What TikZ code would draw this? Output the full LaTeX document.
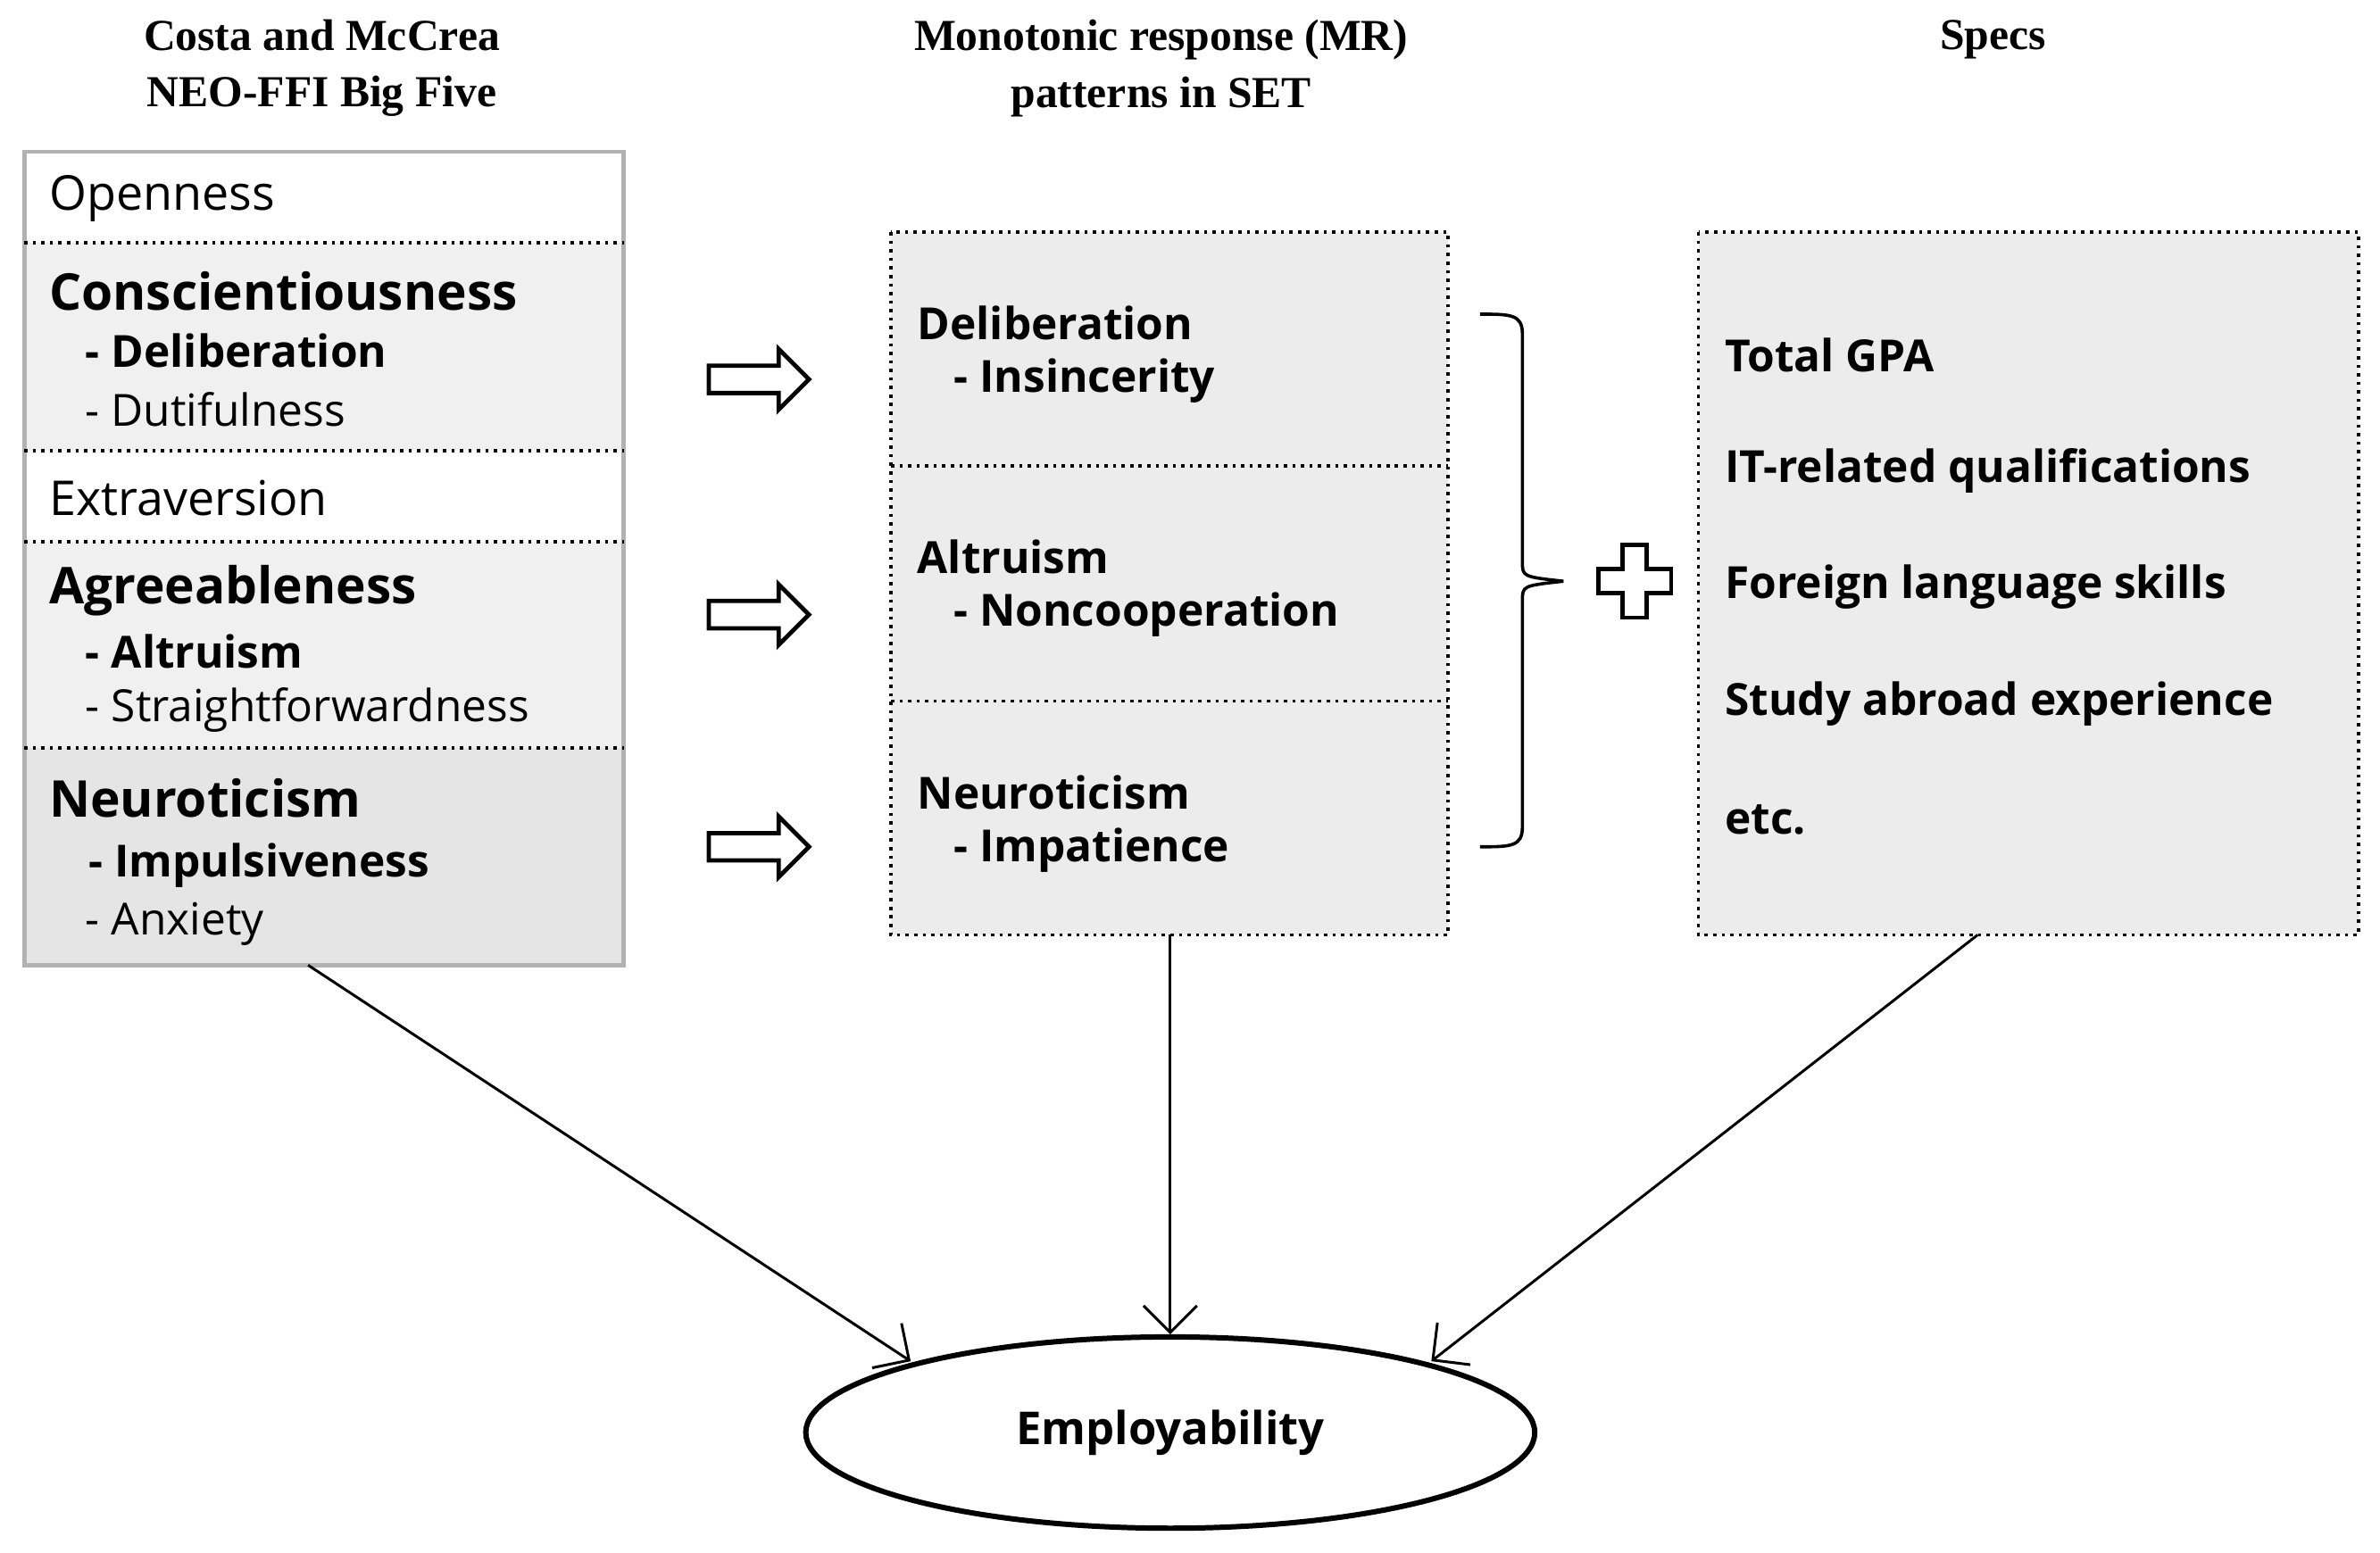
\documentclass[tikz,border=0pt]{standalone}
\usepackage{fontspec}
\setmainfont{Open Sans}
\newfontfamily\hd{Liberation Serif}
\usetikzlibrary{shapes.geometric,arrows.meta}
\begin{document}
\begin{tikzpicture}[x=0.01cm,y=-0.01cm,
 hdr/.style={font=\hd\bfseries\fontsize{8.3}{10.6}\selectfont,align=center},
 big/.style={anchor=west,font=\fontsize{9}{11}\selectfont},
 bigb/.style={anchor=west,font=\bfseries\fontsize{9.5}{11}\selectfont},
 sub/.style={anchor=west,font=\fontsize{8.3}{10}\selectfont},
 subb/.style={anchor=west,font=\bfseries\fontsize{8.3}{10}\selectfont},
 dot/.style={draw=black,densely dotted,line width=0.6pt},
 hol/.style={draw=black,line width=0.8pt,fill=white},
 ln/.style={draw=black,line width=0.5pt,-{Straight Barb[length=5pt]}}]
\useasboundingbox (0,0) rectangle (1568,1023);
\node[hdr] (h1) at (212,45) {Costa and McCrea\\NEO-FFI Big Five};
\node[hdr] (h2) at (765,45) {Monotonic response (MR)\\patterns in SET};
\node[hdr] (h3) at (1313,26) {Specs};
% left box
\fill[gray!12] (16,160) rectangle (411,297);
\fill[gray!12] (16,357) rectangle (411,493);
\fill[gray!20] (16,493) rectangle (411,636);
\draw[gray!60,line width=0.8pt] (16,100) rectangle (411,636);
\foreach \y in {160,297,357,493}{\draw[dot] (16,\y)--(411,\y);}
\node[big] (o) at (20,131) {Openness};
\node[bigb] (c) at (20,192) {Conscientiousness};
\node[subb] (c1) at (44,231) {- Deliberation};
\node[sub] (c2) at (44,270) {- Dutifulness};
\node[big] (e) at (20,328) {Extraversion};
\node[bigb] (a) at (20,389) {Agreeableness};
\node[subb] (a1) at (44,429) {- Altruism};
\node[sub] (a2) at (44,468) {- Straightforwardness};
\node[bigb] (n) at (20,526) {Neuroticism};
\node[subb] (n1) at (46,570) {- Impulsiveness};
\node[sub] (n2) at (44,609) {- Anxiety};
\coordinate (lb) at (203,636);
% middle box
\fill[gray!15] (587,153) rectangle (954,616);
\draw[dot] (587,153) rectangle (954,616);
\draw[dot] (587,307)--(954,307); \draw[dot] (587,462)--(954,462);
\node[subb] (m1) at (592,213) {Deliberation};
\node[subb] (m1b) at (616,251) {- Insincerity};
\node[subb] (m2) at (592,367) {Altruism};
\node[subb] (m2b) at (616,405) {- Noncooperation};
\node[subb] (m3) at (592,522) {Neuroticism};
\node[subb] (m3b) at (616,560) {- Impatience};
\coordinate (mb) at (771,616);
% right box
\fill[gray!15] (1119,153) rectangle (1554,616);
\draw[dot] (1119,153) rectangle (1554,616);
\node[subb] (s1) at (1124,234) {Total GPA};
\node[subb] (s2) at (1124,310) {IT-related qualifications};
\node[subb] (s3) at (1124,387) {Foreign language skills};
\node[subb] (s4) at (1124,464) {Study abroad experience};
\node[subb] (s5) at (1124,540) {etc.};
\coordinate (rb) at (1303,616);
% hollow arrows
\foreach \y in {250,405,558}{
 \draw[hol] (467,\y-9)--(513,\y-9)--(513,\y-20)--(533,\y)--(513,\y+20)--(513,\y+9)--(467,\y+9)--cycle;}
% brace
\draw[line width=0.6pt] (975,207) .. controls (995,207) and (1003,207) .. (1003,220) -- (1003,370) .. controls (1003,380) .. (1030,383);
\draw[line width=0.6pt] (975,558) .. controls (995,558) and (1003,558) .. (1003,545) -- (1003,396) .. controls (1003,386) .. (1030,383);
% plus
\draw[hol] (1069,359)--(1085,359)--(1085,375)--(1101,375)--(1101,391)--(1085,391)--(1085,407)--(1069,407)--(1069,391)--(1053,391)--(1053,375)--(1069,375)--cycle;
% ellipse
\node[ellipse,draw,line width=1pt,minimum width=4.8cm,minimum height=1.26cm,inner sep=0pt,font=\bfseries\fontsize{8.5}{10}\selectfont] (emp) at (771,944) {Employability};
\draw[ln] (lb) -- (600,897);
\draw[ln] (mb) -- (emp.north);
\draw[ln] (rb) -- (943,897);
\end{tikzpicture}
\end{document}
